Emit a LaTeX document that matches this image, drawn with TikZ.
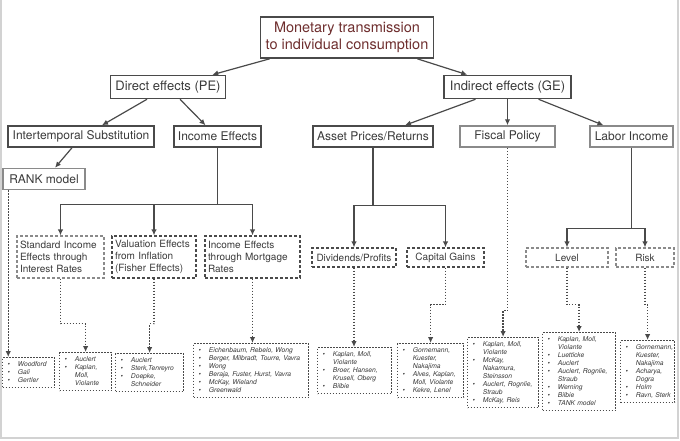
\documentclass[tikz,border=0pt]{standalone}
\usepackage{fontspec}
\setmainfont{TeX Gyre Heros}
\usetikzlibrary{arrows.meta}

\definecolor{boxgray}{HTML}{4A4A4A}
\definecolor{softgray}{HTML}{8A8A8A}
\definecolor{txtgray}{HTML}{3A3A3A}
\definecolor{titlered}{HTML}{6E2E2E}
\definecolor{framegray}{HTML}{D2D2D2}

\newcommand\refbox[1]{\noindent\begin{tabular}{@{\hspace{1pt}}l@{\hspace{8pt}}l@{}}#1\end{tabular}}

\begin{document}
\begin{tikzpicture}[x=1pt, y=-1pt,
  titlebox/.style={draw=boxgray, line width=1.6pt, text=titlered, align=center,
    font=\fontsize{14.5}{17}\selectfont, minimum width=173pt, minimum height=41pt},
  lvlone/.style={draw=boxgray, line width=1.5pt, text=txtgray,
    font=\fontsize{13}{15}\selectfont, minimum height=23pt, inner sep=2pt},
  lvltwo/.style={draw=boxgray, line width=1.5pt, text=txtgray,
    font=\fontsize{12}{14}\selectfont, minimum height=21pt, inner sep=2pt},
  soft/.style={draw=softgray},
  dbox/.style={draw=boxgray, dash pattern=on 3pt off 2pt, line width=1.2pt, text=txtgray,
    font=\fontsize{10}{12}\selectfont, inner sep=3pt},
  refs/.style={draw=boxgray, dash pattern=on 1.2pt off 1.8pt, line width=1.2pt,
    anchor=north west, inner xsep=4pt, inner ysep=3pt, align=left, text=txtgray,
    font=\fontsize{6.7}{8}\selectfont\itshape},
  arr/.style={draw=boxgray, line width=1.2pt, -{Latex[length=6pt,width=5.5pt]}},
  tree/.style={draw=boxgray, line width=1.4pt},
  dotarr/.style={draw=boxgray, line width=1.3pt, dash pattern=on 1.3pt off 1.7pt,
    -{Latex[length=6pt,width=5.5pt]}}]

  \newcommand\YT{37.5}
  \newcommand\YA{87}
  \newcommand\YB{136.5}
  \newcommand\YC{257}

  \useasboundingbox (0,0) rectangle (680,440);
  \draw[framegray, line width=1.5pt] (1,0) -- (1,438) -- (678,438) -- (678,0);

  \node[titlebox] (mon) at (347,\YT) {Monetary transmission\\to individual consumption};

  \node[lvlone, minimum width=115pt] (dir) at (168,\YA) {Direct effects (PE)};
  \node[lvlone, minimum width=127pt] (ind) at (507.5,\YA) {Indirect effects (GE)};

  \node[lvltwo, minimum width=146pt] (inter) at (81,\YB) {Intertemporal Substitution};
  \node[lvltwo, minimum width=87pt] (inc) at (217.5,\YB) {Income Effects};
  \node[lvltwo, minimum width=120pt] (asset) at (373,\YB) {Asset Prices/Returns};
  \node[lvltwo, soft, minimum width=95pt] (fisc) at (507.5,\YB) {Fiscal Policy};
  \node[lvltwo, soft, minimum width=83pt] (lab) at (631.5,\YB) {Labor Income};
  \node[lvltwo, soft, minimum width=82pt, font=\fontsize{12}{14}\selectfont] (rank) at (44,179) {RANK model};

  \node[dbox, soft, text width=81pt, minimum height=42pt] (std) at (60.5,\YC)
    {Standard Income\\Effects through\\Interest Rates};
  \node[dbox, text width=78pt, minimum height=42pt] (val) at (154,\YC)
    {Valuation Effects\\from Inflation\\(Fisher Effects)};
  \node[dbox, text width=89pt, minimum height=42pt] (mort) at (252.5,\YC)
    {Income Effects\\through Mortgage\\Rates};

  \node[dbox, minimum width=84pt, minimum height=19pt, inner sep=2pt] (div) at (354,\YC+0.5) {Dividends/Profits};
  \node[dbox, minimum width=77pt, minimum height=19pt, inner sep=2pt] (cap) at (445.5,\YC+0.5) {Capital Gains};
  \node[dbox, soft, minimum width=82pt, minimum height=19pt, inner sep=2pt] (lev) at (567,\YC+0.5) {Level};
  \node[dbox, soft, minimum width=58pt, minimum height=19pt, inner sep=2pt] (risk) at (645,\YC+0.5) {Risk};

  \node[refs, text width=44pt] (b1) at (2,357) {\refbox{
    \textbullet & Woodford\\ \textbullet & Gali\\ \textbullet & Gertler}};
  \node[refs, text width=44pt] (b2) at (59,352) {\refbox{
    \textbullet & Auclert\\ \textbullet & Kaplan,\\ & Moll,\\ & Violante}};
  \node[refs, text width=60pt] (b3) at (115,353) {\refbox{
    \textbullet & Auclert\\ \textbullet & Sterk,Tenreyro\\ \textbullet & Doepke,\\ & Schneider}};
  \node[refs, text width=107pt] (b4) at (193,343) {\refbox{
    \textbullet & Eichenbaum, Rebelo, Wong\\ \textbullet & Berger, Milbradt, Tourre, Vavra\\
    \textbullet & Wong\\ \textbullet & Beraja, Fuster, Hurst, Vavra\\
    \textbullet & McKay, Wieland\\ \textbullet & Greenwald}};
  \node[refs, text width=66pt] (b5) at (317,347) {\refbox{
    \textbullet & Kaplan, Moll,\\ & Violante\\ \textbullet & Broer, Hansen,\\ & Krusell, Oberg\\
    \textbullet & Bilbie}};
  \node[refs, text width=58pt] (b6) at (397,343) {\refbox{
    \textbullet & Gornemann,\\ & Kuester,\\ & Nakajima\\ \textbullet & Alves, Kaplan,\\
    & Moll, Violante\\ \textbullet & Kekre, Lenel}};
  \node[refs, text width=63pt] (b7) at (467,337) {\refbox{
    \textbullet & Kaplan, Moll,\\ & Violante\\ \textbullet & McKay,\\ & Nakamura,\\ & Steinsson\\
    \textbullet & Auclert, Rognlie,\\ & Straub\\ \textbullet & McKay, Reis}};
  \node[refs, text width=65pt] (b8) at (542,332) {\refbox{
    \textbullet & Kaplan, Moll,\\ & Violante\\ \textbullet & Luetticke\\ \textbullet & Auclert\\
    \textbullet & Auclert, Rognlie,\\ & Straub\\ \textbullet & Werning\\ \textbullet & Bilbie\\
    \textbullet & TANK model}};
  \node[refs, text width=46pt] (b9) at (620,340) {\refbox{
    \textbullet & Gornemann,\\ & Kuester,\\ & Nakajima\\ \textbullet & Acharya,\\ & Dogra\\
    \textbullet & Holm\\ \textbullet & Ravn, Sterk}};

  % upper tree
  \draw[arr] ([xshift=10pt]mon.south west) -- ([xshift=-14pt]dir.north east);
  \draw[arr] ([xshift=-17pt]mon.south east) -- ([xshift=24pt]ind.north west);
  \draw[arr] ([xshift=-21pt]dir.south) -- ([xshift=21pt]inter.north);
  \draw[arr] ([xshift=12pt]dir.south) -- ([xshift=-12pt]inc.north);
  \draw[arr] ([xshift=-9pt]inter.south) -- ([xshift=11pt]rank.north);
  \draw[arr] ([xshift=-32pt]ind.south) -- ([xshift=32pt]asset.north);
  \draw[arr] (ind.south) -- (fisc.north);
  \draw[arr] ([xshift=31pt]ind.south) -- ([xshift=-28pt]lab.north);

  % splits
  \draw[tree] (inc.south) -- ++(0,56.5) coordinate (incsplit);
  \draw[arr] (incsplit) -| (std.north);
  \draw[arr] (incsplit) -| (val.north);
  \draw[arr] (incsplit) -| (mort.north);

  \draw[tree] (asset.south) -- ++(0,57.5) coordinate (assetsplit);
  \draw[arr] (assetsplit) -| (div.north);
  \draw[arr] (assetsplit) -| (cap.north);

  \draw[tree] (lab.south) -- ++(0,80.5) coordinate (labsplit);
  \draw[arr] (labsplit) -| (lev.north);
  \draw[arr] (labsplit) -| (risk.north);

  % references
  \coordinate (rk) at ([xshift=6pt]rank.south west);
  \draw[dotarr] (rk) -- (rk |- b1.north);
  \draw[dotarr] (std.south) -- ++(0,45) -| (b2.north);
  \draw[dotarr] (val.south) -- ++(0,45) -| (b3.north);
  \draw[dotarr] (mort.south) -- (mort.south |- b4.north);
  \draw[dotarr] (div.south) -- (div.south |- b5.north);
  \draw[dotarr] (cap.south) -- ++(0,37) -| (b6.north);
  \draw[dotarr] (fisc.south) -- ++(0,163) -| (b7.north);
  \draw[dotarr] (lev.south) -- ++(0,37) -| (b8.north);
  \draw[dotarr] (risk.south) -- ++(0,37) -| (b9.north);

\end{tikzpicture}
\end{document}
